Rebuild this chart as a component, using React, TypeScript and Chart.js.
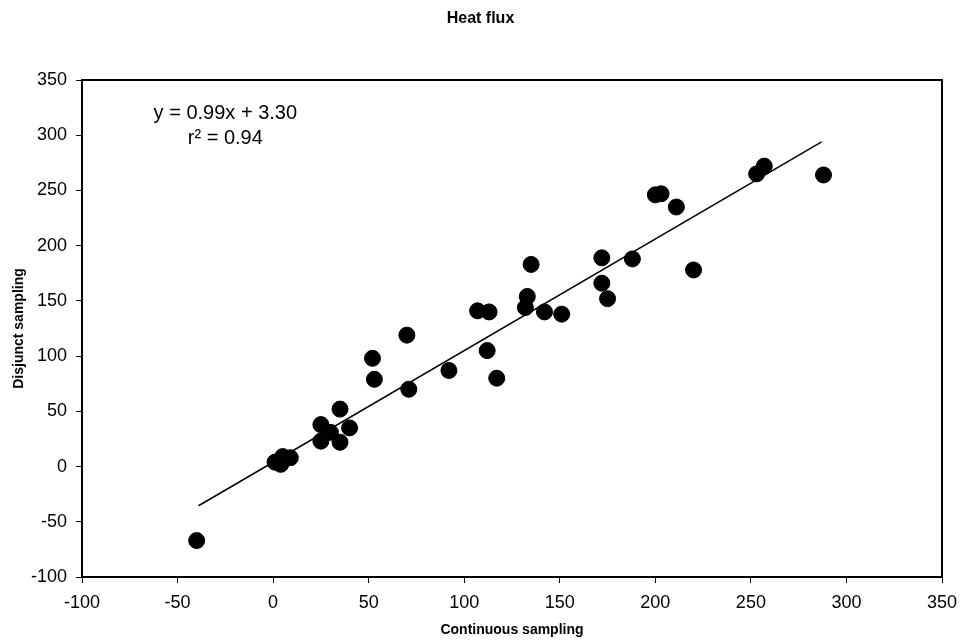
import React, { useEffect, useRef } from "react";
import { Chart, registerables } from "chart.js";

Chart.register(...registerables);

const continuous = [-40, 1, 4, 5, 9, 25, 35, 40, 25, 35, 30, 52, 53, 70, 71, 92, 107, 113, 112, 117, 135, 133, 132, 142, 151, 172, 172, 175, 188, 220, 200, 203, 211, 257, 253, 288];
const disjunct = [-67, 4, 2, 9, 8, 38, 52, 35, 23, 22, 31, 98, 79, 119, 70, 87, 141, 140, 105, 80, 183, 154, 144, 140, 138, 189, 166, 152, 188, 178, 246, 247, 235, 272, 265, 264];

const trendX = [-39, 287];
const trendY = [-35.5, 294];

const axisTicks = [-100, -50, 0, 50, 100, 150, 200, 250, 300, 350];
const chartTitle = "Heat flux";
const equationText = "y = 0.99x + 3.30";
const r2Text = "r² = 0.94";

const FONT = "'Liberation Sans', Arial, sans-serif";

export default function App() {
  const ref = useRef<HTMLCanvasElement | null>(null);

  useEffect(() => {
    if (!ref.current) return;
    const framePlugin = {
      id: "frame",
      afterDatasetsDraw(chart: any) {
        const { ctx, chartArea, scales } = chart;
        ctx.save();
        ctx.strokeStyle = "#000";
        ctx.lineWidth = 2;
        ctx.strokeRect(chartArea.left, chartArea.top, chartArea.right - chartArea.left, chartArea.bottom - chartArea.top);
        ctx.fillStyle = "#000";
        ctx.textAlign = "center";
        ctx.textBaseline = "middle";
        ctx.font = `bold 16px ${FONT}`;
        ctx.fillText(chartTitle, chart.width / 2, 19);
        ctx.font = `20px ${FONT}`;
        ctx.fillText(equationText, scales.x.getPixelForValue(-25), scales.y.getPixelForValue(319.5));
        ctx.fillText(r2Text, scales.x.getPixelForValue(-25), scales.y.getPixelForValue(297));
        ctx.restore();
      },
    };

    const chart = new Chart(ref.current, {
      type: "scatter",
      data: {
        datasets: [
          {
            label: "Heat flux",
            data: continuous.map((x, i) => ({ x, y: disjunct[i] })),
            backgroundColor: "#000",
            borderColor: "#000",
            pointRadius: 8,
            pointHoverRadius: 8,
          },
          {
            type: "line",
            label: "Trend",
            data: trendX.map((x, i) => ({ x, y: trendY[i] })),
            borderColor: "#000",
            borderWidth: 1.5,
            pointRadius: 0,
            fill: false,
          } as any,
        ],
      },
      options: {
        animation: false,
        responsive: false,
        devicePixelRatio: 1,
        layout: { padding: { left: 0, right: 19, top: 80, bottom: 0 } },
        plugins: {
          legend: { display: false },
          tooltip: { enabled: false },
          title: { display: false },
        },
        scales: {
          x: {
            type: "linear",
            min: -100,
            max: 350,
            afterFit: (s: any) => { s.height = 63; s.paddingLeft = 0; s.paddingRight = 0; },
            afterBuildTicks: (s: any) => { s.ticks = axisTicks.map((v) => ({ value: v })); },
            ticks: { color: "#000", font: { family: FONT, size: 18 }, padding: 9, maxRotation: 0 },
            grid: { display: true, drawOnChartArea: false, drawTicks: true, tickLength: 6, color: "#000" },
            border: { display: true, color: "#000", width: 2 },
            title: {
              display: true,
              text: "Continuous sampling",
              color: "#000",
              font: { family: FONT, size: 14, weight: "bold" },
              padding: { top: 0, bottom: 1.6 },
            },
          },
          y: {
            type: "linear",
            min: -100,
            max: 350,
            afterFit: (s: any) => { s.width = 82; s.paddingTop = 0; s.paddingBottom = 0; },
            afterBuildTicks: (s: any) => { s.ticks = axisTicks.map((v) => ({ value: v })); },
            ticks: { color: "#000", font: { family: FONT, size: 18 }, padding: 9 },
            grid: { display: true, drawOnChartArea: false, drawTicks: true, tickLength: 6, color: "#000" },
            border: { display: true, color: "#000", width: 2 },
            title: {
              display: true,
              text: "Disjunct sampling",
              color: "#000",
              font: { family: FONT, size: 14, weight: "bold" },
              padding: { top: 10.6, bottom: 0 },
            },
          },
        },
      },
      plugins: [framePlugin],
    });
    return () => chart.destroy();
  }, []);

  return (
    <div style={{ position: "absolute", left: 0, top: 0, width: 961, height: 640, background: "#fff" }}>
      <canvas ref={ref} width={961} height={640} style={{ display: "block", width: 961, height: 640 }} />
    </div>
  );
}
